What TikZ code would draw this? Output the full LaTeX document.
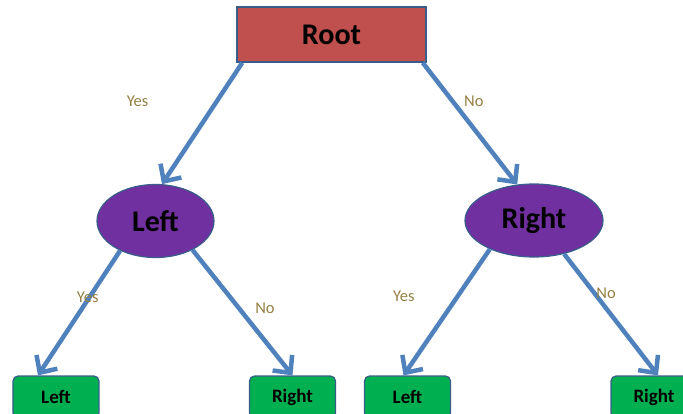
\documentclass[tikz,border=0pt]{standalone}
\usepackage{fontspec}
\setmainfont{Carlito}
\usepackage{tikz}
\usetikzlibrary{shapes,arrows.meta}
\usetikzlibrary{positioning}
\definecolor{rootred}{RGB}{192,80,77}
\definecolor{edgeblue}{RGB}{56,93,138}
\definecolor{splitpurple}{RGB}{112,48,160}
\definecolor{leafgreen}{RGB}{0,176,80}
\definecolor{arrowblue}{RGB}{79,129,189}
\definecolor{labelgold}{RGB}{148,128,68}
\tikzstyle{rootbox} = [rectangle, draw=edgeblue, line width=1.5pt, fill=rootred, minimum width=189pt, minimum height=55pt, font=\fontsize{30}{30}\selectfont\bfseries]
\tikzstyle{split} = [ellipse, draw=edgeblue, line width=1.2pt, fill=splitpurple, inner sep=0pt, minimum height=73pt, font=\fontsize{30}{30}\selectfont\bfseries]
\tikzstyle{leaf} = [rectangle, draw=edgeblue, line width=1.2pt, fill=leafgreen, rounded corners=5pt, minimum width=86pt, minimum height=42pt, font=\fontsize{19}{19}\selectfont\bfseries]
\tikzstyle{arr} = [draw=arrowblue, line width=4.5pt, -{Straight Barb[length=13pt,width=25pt]}]
\tikzstyle{lbl} = [text=labelgold, inner sep=0pt, font=\fontsize{16.5}{16.5}\selectfont]

\begin{document}
\begin{tikzpicture}[on grid]
   \clip (-331.5pt,34.5pt) rectangle (351.5pt,-378.5pt);
   % Place nodes
   \node [rootbox] (root) at (0,0) {Root};
   \node [split, minimum width=117pt, below left = 186.5pt and 176pt of root] (L) {Left};
   \node [split, minimum width=138pt, below right = 186pt and 202.5pt of root] (R) {Right};
   \node [leaf, below left = 176pt and 99.5pt of L] (LL) {Left};
   \node [leaf, below right = 176pt and 137pt of L] (LR) {Right};
   \node [leaf, below left = 176.5pt and 126.5pt of R] (RL) {Left};
   \node [leaf, below right = 176.5pt and 120pt of R] (RR) {Right};

   % Yes goes left, No goes right
   \draw[arr] ([xshift=6pt]root.south west) -- node [lbl, pos=0.32, left=66pt] (yes1) {Yes} (L.80);
   \draw[arr] ([xshift=-4pt]root.south east) -- node [lbl, pos=0.32, right=9pt] (no1) {No} (R.115);
   \draw[arr] (L.220) -- node [lbl, pos=0.37, xshift=-2pt] (yes2) {Yes} ([xshift=-18pt]LL.north);
   \draw[arr] (L.322) -- node [lbl, pos=0.465, right=14pt] (no2) {No} (LR.north);
   \draw[arr] (R.213) -- node [lbl, pos=0.37, left=41pt] (yes3) {Yes} ([xshift=-4pt]RL.north);
   \draw[arr] (R.312) -- node [lbl, pos=0.32, xshift=12pt] (no3) {No} ([xshift=4pt]RR.north);
\end{tikzpicture}
\end{document}
